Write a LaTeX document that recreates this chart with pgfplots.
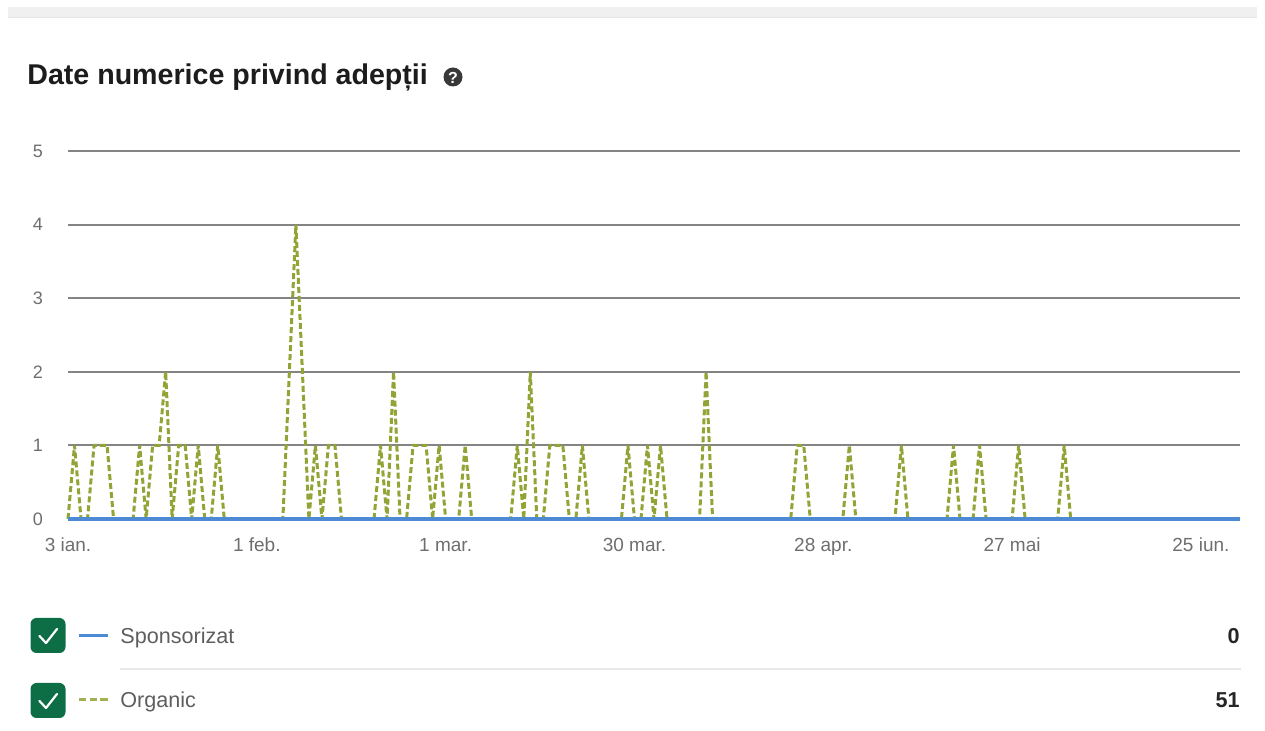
\documentclass[border=0pt]{standalone}
\usepackage{pgfplots}
\pgfplotsset{compat=1.18}
\usepackage{pgfplotstable}
\usepackage{fontspec}
\setmainfont{Liberation Sans}
\definecolor{gridcol}{RGB}{132,132,132}
\definecolor{sponsblue}{HTML}{4D8AD6}
\definecolor{orgolive}{HTML}{90A535}
\definecolor{checkgreen}{HTML}{0D6E46}
\definecolor{tickgray}{HTML}{6E6E6E}
\definecolor{legtext}{HTML}{5E5E5E}
\definecolor{titlecol}{HTML}{1C1C1C}
\definecolor{valcol}{HTML}{262626}

\pgfplotstableread{
day org spons
0 0 0
1 1 0
2 0 0
3 0 0
4 1 0
5 1 0
6 1 0
7 0 0
8 0 0
9 0 0
10 0 0
11 1 0
12 0 0
13 1 0
14 1 0
15 2 0
16 0 0
17 1 0
18 1 0
19 0 0
20 1 0
21 0 0
22 0 0
23 1 0
24 0 0
25 0 0
26 0 0
27 0 0
28 0 0
29 0 0
30 0 0
31 0 0
32 0 0
33 0 0
34 2 0
35 4 0
36 2 0
37 0 0
38 1 0
39 0 0
40 1 0
41 1 0
42 0 0
43 0 0
44 0 0
45 0 0
46 0 0
47 0 0
48 1 0
49 0 0
50 2 0
51 0 0
52 0 0
53 1 0
54 1 0
55 1 0
56 0 0
57 1 0
58 0 0
59 0 0
60 0 0
61 1 0
62 0 0
63 0 0
64 0 0
65 0 0
66 0 0
67 0 0
68 0 0
69 1 0
70 0 0
71 2 0
72 0 0
73 0 0
74 1 0
75 1 0
76 1 0
77 0 0
78 0 0
79 1 0
80 0 0
81 0 0
82 0 0
83 0 0
84 0 0
85 0 0
86 1 0
87 0 0
88 0 0
89 1 0
90 0 0
91 1 0
92 0 0
93 0 0
94 0 0
95 0 0
96 0 0
97 0 0
98 2 0
99 0 0
100 0 0
101 0 0
102 0 0
103 0 0
104 0 0
105 0 0
106 0 0
107 0 0
108 0 0
109 0 0
110 0 0
111 0 0
112 1 0
113 1 0
114 0 0
115 0 0
116 0 0
117 0 0
118 0 0
119 0 0
120 1 0
121 0 0
122 0 0
123 0 0
124 0 0
125 0 0
126 0 0
127 0 0
128 1 0
129 0 0
130 0 0
131 0 0
132 0 0
133 0 0
134 0 0
135 0 0
136 1 0
137 0 0
138 0 0
139 0 0
140 1 0
141 0 0
142 0 0
143 0 0
144 0 0
145 0 0
146 1 0
147 0 0
148 0 0
149 0 0
150 0 0
151 0 0
152 0 0
153 1 0
154 0 0
155 0 0
156 0 0
157 0 0
158 0 0
159 0 0
160 0 0
161 0 0
162 0 0
163 0 0
164 0 0
165 0 0
166 0 0
167 0 0
168 0 0
169 0 0
170 0 0
171 0 0
172 0 0
173 0 0
174 0 0
175 0 0
176 0 0
177 0 0
178 0 0
179 0 0
180 0 0
}\followers

\begin{document}
\begin{tikzpicture}
\begin{scope}[x=0.5pt,y=-0.5pt]
  \path[use as bounding box] (0,0) rectangle (1265,731);
  % top strip
  \fill[black!6] (8,7) rectangle (1257,18);
  \draw[black!10, line width=0.5pt] (8,18) -- (1257,18);
  % title
  \node[anchor=base west, inner sep=0pt, text=titlecol,
        font=\bfseries\fontsize{14.3}{16}\selectfont] at (27,85) {Date numerice privind adepții};
  \fill[black!78] (453,77) circle (9.5);
  \node[text=white, font=\bfseries\fontsize{8}{9}\selectfont, inner sep=0pt] at (453,77.5) {?};
  % legend row 1
  \fill[checkgreen, rounded corners=3pt] (30.5,618) rectangle (65.5,653);
  \draw[white, line width=1.1pt, line cap=round, line join=round] (39.5,636) -- (46,643) -- (57,629);
  \draw[sponsblue, line width=1.3pt] (79,635.5) -- (107.5,635.5);
  \node[anchor=base west, inner sep=0pt, text=legtext, font=\fontsize{10.8}{12}\selectfont] at (120,644) {Sponsorizat};
  \node[anchor=base east, inner sep=0pt, text=valcol, font=\bfseries\fontsize{10.8}{12}\selectfont] at (1240,644) {0};
  % separator
  \draw[black!9, line width=1pt] (120,669.5) -- (1241,669.5);
  % legend row 2
  \fill[checkgreen, rounded corners=3pt] (30.5,683) rectangle (65.5,718);
  \draw[white, line width=1.1pt, line cap=round, line join=round] (39.5,701) -- (46,708) -- (57,694);
  \draw[orgolive!85!white, line width=1.3pt] (79,699.5) -- (86,699.5);
  \draw[orgolive!85!white, line width=1.3pt] (89.5,699.5) -- (96.5,699.5);
  \draw[orgolive!85!white, line width=1.3pt] (100,699.5) -- (107.5,699.5);
  \node[anchor=base west, inner sep=0pt, text=legtext, font=\fontsize{10.8}{12}\selectfont] at (120,708) {Organic};
  \node[anchor=base east, inner sep=0pt, text=valcol, font=\bfseries\fontsize{10.8}{12}\selectfont] at (1240,708) {51};
\end{scope}

\begin{axis}[
  at={(34pt,-259.5pt)}, anchor=south west,
  width=586pt, height=184pt, scale only axis,
  xmin=0, xmax=180, ymin=0, ymax=5,
  axis line style={draw=none},
  tick style={draw=none},
  major tick length=0pt,
  xtick={0,29,58,87,116,145,174},
  xticklabels={3 ian.,1 feb.,1 mar.,30 mar.,28 apr.,27 mai,25 iun.},
  ytick={0,1,2,3,4,5},
  ymajorgrids,
  major grid style={gridcol, line width=1pt},
  xticklabel style={anchor=base, yshift=-16.5pt, text=tickgray, font=\fontsize{9.5}{10}\selectfont},
  yticklabel style={anchor=center, xshift=-15pt, text=tickgray, font=\fontsize{9}{10}\selectfont},
  /pgf/number format/assume math mode=true,
  clip=false,
]
\addplot[orgolive, line width=1.5pt, dash pattern=on 3pt off 1.5pt, mark=none] table[x=day, y=org] {\followers};
\addplot[sponsblue, line width=1.9pt, mark=none] table[x=day, y=spons] {\followers};
\end{axis}
\end{tikzpicture}
\end{document}
